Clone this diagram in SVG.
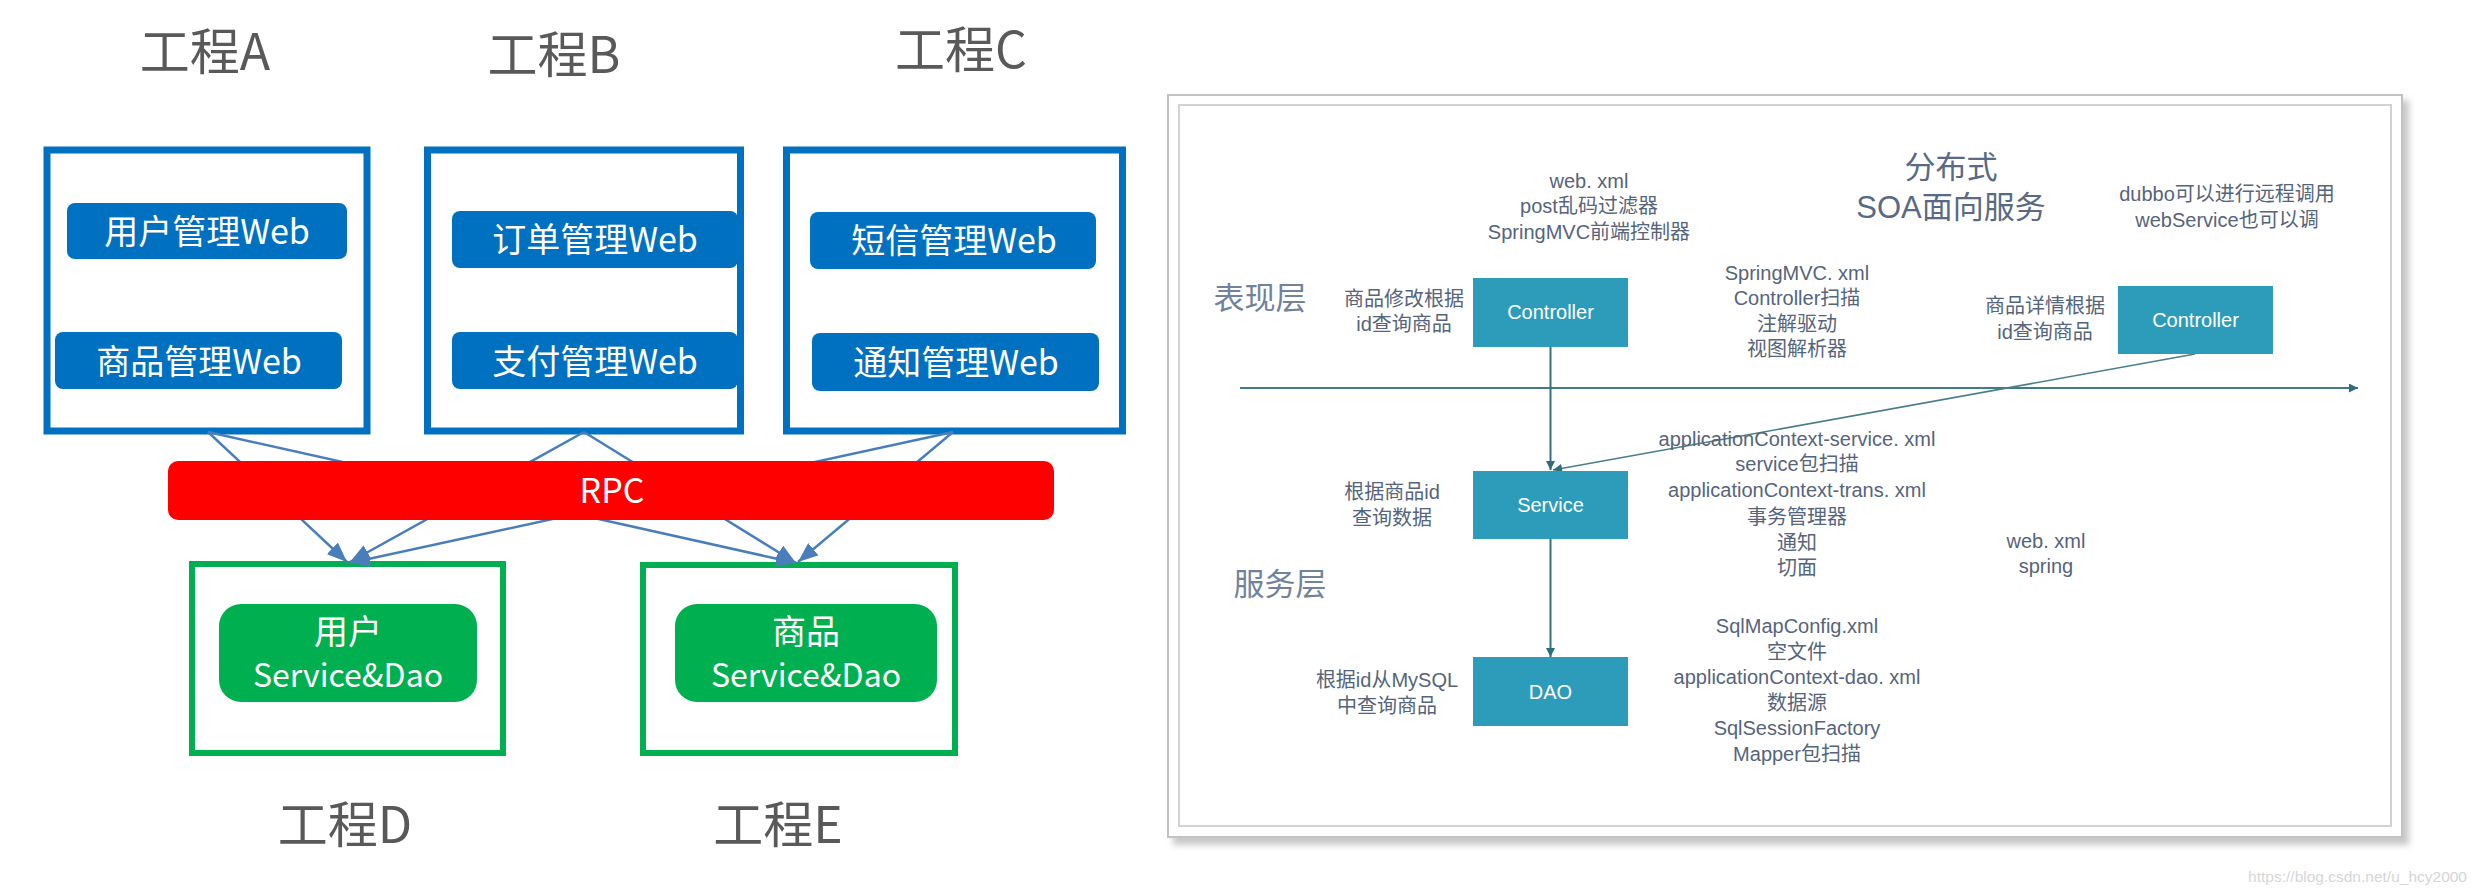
<svg xmlns="http://www.w3.org/2000/svg" width="2477" height="894" viewBox="0 0 2477 894">
<style>
.cjk{font-family:"Noto Sans CJK SC","Noto Sans",sans-serif;text-anchor:middle}
.title{font-size:50px;fill:#595959}
.proj{fill:#fff;stroke:#0070C0;stroke-width:7}
.gproj{fill:#fff;stroke:#00B050;stroke-width:6}
.btn{fill:#0070C0}
.gbtn{fill:#00B050}
.wt{fill:#fff;font-size:34px}
.conn{stroke:#4A7EBB;stroke-width:2.5;fill:none;marker-end:url(#ah)}
.sm{font-family:"Liberation Sans","Noto Sans CJK SC",sans-serif;font-size:20px;fill:#56647c;text-anchor:middle}
.lay{font-family:"Noto Sans CJK SC","Liberation Sans",sans-serif;font-size:31px;fill:#72829c;text-anchor:middle}
.big{font-family:"Liberation Sans","Noto Sans CJK SC",sans-serif;font-size:31px;fill:#5a6a84;text-anchor:middle}
.tbox{fill:#2d9cbb}
.tbt{font-family:"Liberation Sans",sans-serif;font-size:20px;fill:#fff;text-anchor:middle}
.rl{stroke:#33717e;stroke-width:2;fill:none}
</style>
<defs>
<marker id="ah" viewBox="0 0 20 16" refX="20" refY="8" markerWidth="20" markerHeight="16" markerUnits="userSpaceOnUse" orient="auto">
<path d="M0,0 L20,8 L0,16 z" fill="#4A7EBB"/>
</marker>
<marker id="sa" viewBox="0 0 10 10" refX="10" refY="5" markerWidth="10" markerHeight="9" markerUnits="userSpaceOnUse" orient="auto">
<path d="M0,0 L10,5 L0,10 z" fill="#2f6f7c"/>
</marker>
<filter id="sh" x="-5%" y="-5%" width="110%" height="110%">
<feGaussianBlur stdDeviation="3"/>
</filter>
</defs>
<rect width="2477" height="894" fill="#fff"/>

<!-- Left diagram -->
<g id="projA">
<rect class="proj" x="47" y="150" width="320" height="281"/>
<rect class="btn" x="67" y="203" width="280" height="56" rx="8"/>
<text class="cjk wt" x="207" y="244">用户管理Web</text>
<rect class="btn" x="55" y="332" width="287" height="57" rx="8"/>
<text class="cjk wt" x="199" y="374">商品管理Web</text>
</g>
<g id="projB">
<rect class="proj" x="427.5" y="150" width="313" height="281"/>
<rect class="btn" x="452" y="211" width="286" height="57" rx="8"/>
<text class="cjk wt" x="595" y="252">订单管理Web</text>
<rect class="btn" x="452" y="332" width="286" height="57" rx="8"/>
<text class="cjk wt" x="595" y="374">支付管理Web</text>
</g>
<g id="projC">
<rect class="proj" x="786.5" y="150" width="336" height="281"/>
<rect class="btn" x="810" y="212" width="286" height="57" rx="8"/>
<text class="cjk wt" x="954" y="253">短信管理Web</text>
<rect class="btn" x="812" y="333" width="287" height="58" rx="8"/>
<text class="cjk wt" x="956" y="375">通知管理Web</text>
</g>
<g id="projD">
<rect class="gproj" x="192" y="564" width="311" height="189"/>
<rect class="gbtn" x="219" y="604" width="258" height="98" rx="22"/>
<text class="cjk wt" x="348" y="644">用户</text>
<text class="cjk wt" x="348" y="687" style="font-size:32px">Service&amp;Dao</text>
</g>
<g id="projE">
<rect class="gproj" x="643" y="565" width="312" height="188"/>
<rect class="gbtn" x="675" y="604" width="262" height="98" rx="22"/>
<text class="cjk wt" x="806" y="644">商品</text>
<text class="cjk wt" x="806" y="687" style="font-size:32px">Service&amp;Dao</text>
</g>
<g id="connectors">
<line class="conn" x1="208" y1="432" x2="347" y2="562"/>
<line class="conn" x1="208" y1="432" x2="796" y2="563"/>
<line class="conn" x1="584" y1="432" x2="350" y2="562"/>
<line class="conn" x1="584" y1="432" x2="796" y2="563"/>
<line class="conn" x1="953" y1="432" x2="350" y2="563"/>
<line class="conn" x1="953" y1="432" x2="798" y2="562"/>
</g>
<g id="rpc">
<rect x="168" y="461" width="886" height="59" rx="10" fill="#FF0000"/>
<text class="cjk wt" x="612" y="503">RPC</text>
</g>
<g id="labels">
<text class="cjk title" x="205" y="70">工程A</text>
<text class="cjk title" x="554" y="73">工程B</text>
<text class="cjk title" x="961" y="68">工程C</text>
<text class="cjk title" x="345" y="843">工程D</text>
<text class="cjk title" x="778" y="843">工程E</text>
</g>

<!-- Right panel -->
<g id="panel">
<rect x="1173" y="100" width="1236" height="745" fill="#c8c8c8" filter="url(#sh)"/>
<rect x="1168" y="95" width="1234" height="742" fill="#fff" stroke="#c2c2c2" stroke-width="2"/>
<rect x="1179" y="105" width="1212" height="721" fill="#fff" stroke="#d2d2d2" stroke-width="2"/>
</g>
<g id="panel-connectors">
<line class="rl" x1="1240" y1="388" x2="2358" y2="388" marker-end="url(#sa)" style="stroke:#3f7c88"/>
<line class="rl" x1="1550.5" y1="347" x2="1550.5" y2="470" marker-end="url(#sa)"/>
<line class="rl" x1="1550.5" y1="539" x2="1550.5" y2="657" marker-end="url(#sa)"/>
<line class="rl" x1="2195" y1="354" x2="1553" y2="470" marker-end="url(#sa)" style="stroke:#4a7f8a;stroke-width:1.6"/>
</g>
<g id="controller1">
<rect class="tbox" x="1473" y="278" width="155" height="69"/>
<text class="tbt" x="1550.5" y="319">Controller</text>
</g>
<g id="service">
<rect class="tbox" x="1473" y="471" width="155" height="68"/>
<text class="tbt" x="1550.5" y="512">Service</text>
</g>
<g id="dao">
<rect class="tbox" x="1473" y="657" width="155" height="69"/>
<text class="tbt" x="1550.5" y="699">DAO</text>
</g>
<g id="controller2">
<rect class="tbox" x="2118" y="286" width="155" height="68"/>
<text class="tbt" x="2195.5" y="327">Controller</text>
</g>
<g id="panel-texts">
<text class="sm" x="1589" y="188">web. xml</text>
<text class="sm" x="1589" y="213">post乱码过滤器</text>
<text class="sm" x="1589" y="239">SpringMVC前端控制器</text>
<text class="big" x="1951" y="178">分布式</text>
<text class="big" x="1951" y="218">SOA面向服务</text>
<text class="sm" x="2227" y="201">dubbo可以进行远程调用</text>
<text class="sm" x="2227" y="227">webService也可以调</text>
<text class="lay" x="1260" y="309">表现层</text>
<text class="lay" x="1280" y="595">服务层</text>
<text class="sm" x="1404" y="306">商品修改根据</text>
<text class="sm" x="1404" y="331">id查询商品</text>
<text class="sm" x="1797" y="280">SpringMVC. xml</text>
<text class="sm" x="1797" y="305">Controller扫描</text>
<text class="sm" x="1797" y="331">注解驱动</text>
<text class="sm" x="1797" y="356">视图解析器</text>
<text class="sm" x="2045" y="313">商品详情根据</text>
<text class="sm" x="2045" y="339">id查询商品</text>
<text class="sm" x="1797" y="446">applicationContext-service. xml</text>
<text class="sm" x="1797" y="471">service包扫描</text>
<text class="sm" x="1797" y="497">applicationContext-trans. xml</text>
<text class="sm" x="1797" y="524">事务管理器</text>
<text class="sm" x="1797" y="550">通知</text>
<text class="sm" x="1797" y="575">切面</text>
<text class="sm" x="2046" y="548">web. xml</text>
<text class="sm" x="2046" y="573">spring</text>
<text class="sm" x="1392" y="499">根据商品id</text>
<text class="sm" x="1392" y="525">查询数据</text>
<text class="sm" x="1387" y="687">根据id从MySQL</text>
<text class="sm" x="1387" y="713">中查询商品</text>
<text class="sm" x="1797" y="633">SqlMapConfig.xml</text>
<text class="sm" x="1797" y="659">空文件</text>
<text class="sm" x="1797" y="684">applicationContext-dao. xml</text>
<text class="sm" x="1797" y="710">数据源</text>
<text class="sm" x="1797" y="735">SqlSessionFactory</text>
<text class="sm" x="1797" y="761">Mapper包扫描</text>
</g>
<text x="2467" y="882" font-family="Liberation Sans, sans-serif" font-size="15.5" fill="#d6d6d6" text-anchor="end">https://blog.csdn.net/u_hcy2000</text>
</svg>
